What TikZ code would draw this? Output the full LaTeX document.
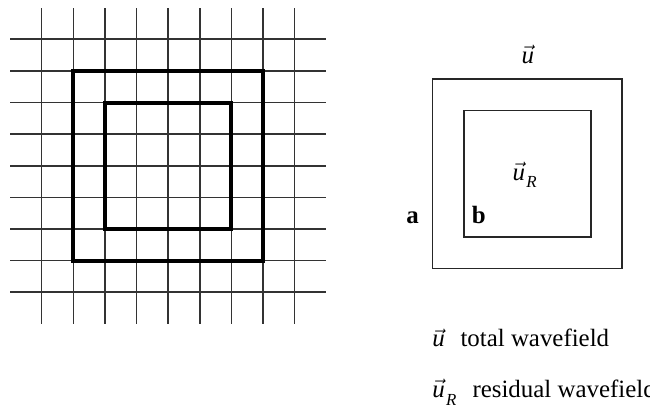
\documentclass[tikz,border=0pt]{standalone}
\usepackage{amsmath}
\usepackage{fontspec}
\setmainfont{Liberation Serif}
\usepackage{tikz}
\usetikzlibrary{positioning}
\newcommand{\uvec}{$\vec{\text{\itshape u}}$}
\newcommand{\uRvec}{\uvec\kern0.6pt\raisebox{-3.4pt}{\fontsize{7.6}{8}\selectfont\itshape R}}

\begin{document}
\begin{tikzpicture}[x=0.5cm, y=0.5cm, font=\fontsize{11.2}{13.4}\selectfont,
  gridline/.style={black!80, line width=0.7pt},
  domainbox/.style={black, line width=1.8pt},
  sketchbox/.style={black!85, line width=0.75pt},
  lbl/.style={inner sep=0pt}]
  \useasboundingbox (-0.3175,-2.691) rectangle (20.236,10.242);

  % Grid
  \foreach \i in {1,...,9} {
    \draw[gridline] (\i,0) -- (\i,10);
    \draw[gridline] (0,\i) -- (10,\i);
  }

  % Boundaries a and b on the grid
  \draw[domainbox] (2,2) rectangle (8,8);
  \draw[domainbox] (3,3) rectangle (7,7);

  % Sketch of the two regions
  \draw[sketchbox] (13.36,1.75) rectangle (19.36,7.75);
  \draw[sketchbox] (14.36,2.75) rectangle (18.36,6.75);
  \node[lbl, anchor=base] (uTop) at (16.37,8.22) {\uvec};
  \node[lbl, anchor=base west] (uRIn) at (15.88,4.55) {\uRvec};
  \node[lbl, anchor=base] (labA) at (12.73,3.16) {\textbf{a}};
  \node[lbl, anchor=base] (labB) at (14.82,3.16) {\textbf{b}};

  % Key
  \node[lbl, anchor=base west] (uKey) at (13.34,-0.73) {\uvec};
  \node[lbl, anchor=base west] (uText) at (14.23,-0.73) {total wavefield};
  \node[lbl, anchor=base west] (uRKey) at (13.34,-2.34) {\uRvec};
  \node[lbl, anchor=base west] (uRText) at (14.61,-2.34) {residual wavefield};
\end{tikzpicture}
\end{document}
